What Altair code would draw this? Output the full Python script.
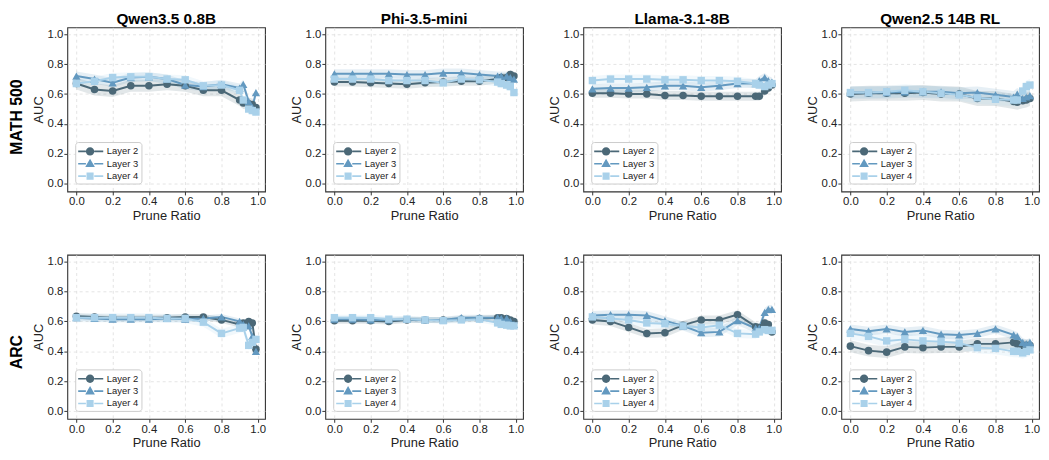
import altair as alt
import pandas as pd

PRUNE = [0.0, 0.1, 0.2, 0.3, 0.4, 0.5, 0.6, 0.7, 0.8, 0.9, 0.92, 0.95, 0.97, 0.99]
MODELS = ["Qwen3.5 0.8B", "Phi-3.5-mini", "Llama-3.1-8B", "Qwen2.5 14B RL"]
DATASETS = ["MATH 500", "ARC"]
LAYERS = ["Layer 2", "Layer 3", "Layer 4"]
COLORS = ["#4b6877", "#6399c0", "#a9d1ea"]
SHAPES = ["circle", "triangle-up", "square"]
TICKS = [0.0, 0.2, 0.4, 0.6, 0.8, 1.0]

qwen35_math_l2 = [0.67, 0.63, 0.62, 0.655, 0.655, 0.665, 0.655, 0.625, 0.625, 0.56, 0.54, 0.535, 0.53, 0.51]
qwen35_math_l3 = [0.72, 0.70, 0.675, 0.71, 0.715, 0.70, 0.66, 0.65, 0.665, 0.64, 0.665, 0.55, 0.51, 0.61]
qwen35_math_l4 = [0.67, 0.685, 0.71, 0.715, 0.715, 0.70, 0.695, 0.655, 0.66, 0.625, 0.56, 0.50, 0.49, 0.48]

phi_math_l2 = [0.68, 0.68, 0.675, 0.67, 0.665, 0.675, 0.68, 0.685, 0.685, 0.70, 0.71, 0.71, 0.73, 0.72]
phi_math_l3 = [0.735, 0.735, 0.735, 0.735, 0.73, 0.73, 0.74, 0.74, 0.73, 0.72, 0.72, 0.72, 0.71, 0.70]
phi_math_l4 = [0.70, 0.70, 0.70, 0.69, 0.69, 0.69, 0.675, 0.70, 0.695, 0.68, 0.67, 0.66, 0.65, 0.61]

llama_math_l2 = [0.605, 0.605, 0.60, 0.60, 0.59, 0.59, 0.585, 0.585, 0.585, 0.585, 0.585, 0.62, 0.64, 0.66]
llama_math_l3 = [0.635, 0.64, 0.64, 0.645, 0.655, 0.655, 0.645, 0.655, 0.67, 0.67, 0.69, 0.71, 0.69, 0.68]
llama_math_l4 = [0.69, 0.70, 0.70, 0.70, 0.695, 0.695, 0.69, 0.69, 0.685, 0.67, 0.66, 0.65, 0.66, 0.67]

qwen25_math_l2 = [0.60, 0.605, 0.605, 0.605, 0.61, 0.60, 0.60, 0.57, 0.57, 0.55, 0.545, 0.555, 0.56, 0.57]
qwen25_math_l3 = [0.61, 0.61, 0.61, 0.615, 0.615, 0.615, 0.605, 0.61, 0.595, 0.58, 0.60, 0.57, 0.58, 0.59]
qwen25_math_l4 = [0.61, 0.61, 0.615, 0.625, 0.615, 0.605, 0.595, 0.575, 0.565, 0.56, 0.56, 0.62, 0.65, 0.66]

qwen35_arc_l2 = [0.635, 0.63, 0.625, 0.625, 0.625, 0.625, 0.63, 0.63, 0.61, 0.58, 0.59, 0.60, 0.59, 0.415]
qwen35_arc_l3 = [0.625, 0.62, 0.615, 0.615, 0.615, 0.62, 0.615, 0.62, 0.63, 0.60, 0.58, 0.57, 0.50, 0.40]
qwen35_arc_l4 = [0.625, 0.625, 0.625, 0.625, 0.625, 0.62, 0.62, 0.595, 0.52, 0.555, 0.56, 0.44, 0.46, 0.48]

phi_arc_l2 = [0.605, 0.605, 0.605, 0.60, 0.61, 0.61, 0.61, 0.615, 0.62, 0.625, 0.625, 0.62, 0.61, 0.60]
phi_arc_l3 = [0.615, 0.615, 0.61, 0.61, 0.615, 0.61, 0.61, 0.625, 0.625, 0.625, 0.62, 0.62, 0.60, 0.58]
phi_arc_l4 = [0.625, 0.625, 0.625, 0.615, 0.615, 0.61, 0.605, 0.61, 0.615, 0.59, 0.58, 0.575, 0.57, 0.57]

llama_arc_l2 = [0.61, 0.60, 0.56, 0.52, 0.525, 0.575, 0.61, 0.61, 0.645, 0.565, 0.56, 0.59, 0.58, 0.53]
llama_arc_l3 = [0.64, 0.645, 0.645, 0.64, 0.605, 0.57, 0.525, 0.53, 0.605, 0.555, 0.555, 0.66, 0.68, 0.68]
llama_arc_l4 = [0.63, 0.62, 0.61, 0.59, 0.585, 0.57, 0.56, 0.575, 0.52, 0.515, 0.53, 0.545, 0.54, 0.54]

qwen25_arc_l2 = [0.435, 0.405, 0.395, 0.43, 0.425, 0.43, 0.43, 0.45, 0.45, 0.46, 0.45, 0.44, 0.44, 0.44]
qwen25_arc_l3 = [0.55, 0.535, 0.55, 0.53, 0.54, 0.515, 0.51, 0.52, 0.55, 0.51, 0.50, 0.46, 0.45, 0.46]
qwen25_arc_l4 = [0.52, 0.50, 0.47, 0.48, 0.47, 0.465, 0.455, 0.425, 0.42, 0.40, 0.40, 0.39, 0.40, 0.41]

# half-width of the shaded band for Layer 2/3/4 in each panel
band_qwen35_math = [0.04, 0.03, 0.03]
band_phi_math = [0.03, 0.03, 0.03]
band_llama_math = [0.03, 0.03, 0.03]
band_qwen25_math = [0.05, 0.04, 0.04]
band_qwen35_arc = [0.02, 0.02, 0.03]
band_phi_arc = [0.02, 0.02, 0.02]
band_llama_arc = [0.03, 0.03, 0.03]
band_qwen25_arc = [0.04, 0.03, 0.04]

PANELS = {
    ("Qwen3.5 0.8B", "MATH 500"): ([qwen35_math_l2, qwen35_math_l3, qwen35_math_l4], band_qwen35_math),
    ("Phi-3.5-mini", "MATH 500"): ([phi_math_l2, phi_math_l3, phi_math_l4], band_phi_math),
    ("Llama-3.1-8B", "MATH 500"): ([llama_math_l2, llama_math_l3, llama_math_l4], band_llama_math),
    ("Qwen2.5 14B RL", "MATH 500"): ([qwen25_math_l2, qwen25_math_l3, qwen25_math_l4], band_qwen25_math),
    ("Qwen3.5 0.8B", "ARC"): ([qwen35_arc_l2, qwen35_arc_l3, qwen35_arc_l4], band_qwen35_arc),
    ("Phi-3.5-mini", "ARC"): ([phi_arc_l2, phi_arc_l3, phi_arc_l4], band_phi_arc),
    ("Llama-3.1-8B", "ARC"): ([llama_arc_l2, llama_arc_l3, llama_arc_l4], band_llama_arc),
    ("Qwen2.5 14B RL", "ARC"): ([qwen25_arc_l2, qwen25_arc_l3, qwen25_arc_l4], band_qwen25_arc),
}

# legend symbols: short line with the marker on it (unit box -1..1, line runs past it to the right)
_SEG = "M-1,-0.13H0.2V0.13H-1Z M1.5,-0.13H2.9V0.13H1.5Z "
LEG_PATHS = [
    _SEG + "M0.2,0A0.65,0.65 0 1,0 1.5,0A0.65,0.65 0 1,0 0.2,0Z",
    _SEG + "M0.85,-0.78L1.6,0.52L0.1,0.52Z",
    _SEG + "M0.3,-0.56H1.4V0.56H0.3Z",
]

FONT = "Liberation Sans"
W, H = 200, 166


def panel(model, dataset, top):
    series, bands = PANELS[(model, dataset)]
    rows = []
    for li, layer in enumerate(LAYERS):
        for x, v in zip(PRUNE, series[li]):
            rows.append({"x": x, "auc": v, "lo": v - bands[li], "hi": v + bands[li], "layer": layer})
    df = pd.DataFrame(rows)
    base = alt.Chart(df)
    xs = alt.Scale(domain=[-0.05, 1.04], nice=False, zero=False)
    ys = alt.Scale(domain=[-0.05, 1.045], nice=False, zero=False)
    xaxis = alt.Axis(values=TICKS, format=".1f", title="Prune Ratio", labelOverlap=False)
    yaxis = alt.Axis(values=TICKS, format=".1f", title="AUC", labelOverlap=False)
    xenc = alt.X("x:Q", scale=xs, axis=xaxis)
    yenc = alt.Y("auc:Q", scale=ys, axis=yaxis)
    cscale = alt.Scale(domain=LAYERS, range=COLORS)
    color = alt.Color("layer:N", scale=cscale)

    legdef = alt.Legend(title=None, orient="bottom-left", offset=8)
    leg = (
        base.transform_filter("false")
        .mark_point(filled=True, opacity=1)
        .encode(
            x=xenc,
            y=yenc,
            color=alt.Color("layer:N", scale=cscale, legend=legdef),
            shape=alt.Shape("layer:N", scale=alt.Scale(domain=LAYERS, range=LEG_PATHS), legend=legdef),
        )
    )
    band = base.mark_area(opacity=0.16).encode(
        x=xenc, y=alt.Y("lo:Q", scale=ys, axis=yaxis), y2="hi:Q", color=color
    )
    lines = base.mark_line(strokeWidth=2).encode(x=xenc, y=yenc, color=color)
    pts = []
    sizes = [58, 70, 56]
    for li, layer in enumerate(LAYERS):
        pts.append(
            base.transform_filter(alt.datum.layer == layer)
            .mark_point(filled=True, opacity=1, shape=SHAPES[li], size=sizes[li])
            .encode(x=xenc, y=yenc, color=color)
        )
    ch = alt.layer(leg, band, lines, *pts).properties(width=W, height=H)
    if top:
        ch = ch.properties(title=alt.TitleParams(model, fontSize=15.5, fontWeight="bold", font=FONT,
                                                 color="#000", offset=0))
    return ch


rows = []
for di, ds in enumerate(DATASETS):
    row = alt.hconcat(
        *[panel(m, ds, di == 0) for m in MODELS],
        spacing=22,
        title=alt.TitleParams(ds, orient="left", anchor="middle", fontSize=16, fontWeight="bold",
                              font=FONT, color="#000", offset=7),
    ).resolve_legend(color="independent", shape="independent")
    rows.append(row)

chart = (
    alt.vconcat(*rows, spacing=31)
    .properties(padding=0)
    .resolve_legend(color="independent", shape="independent")
    .configure_view(stroke="#333333", strokeWidth=1.1)
    .configure_axis(
        labelFont=FONT, titleFont=FONT, labelFontSize=11.5, titleFontSize=13,
        labelColor="#222", titleColor="#222", titleFontWeight="normal",
        grid=True, gridColor="#dddddd", gridDash=[3, 3], gridWidth=0.8,
        domain=False, tickColor="#333", tickSize=3.5, labelPadding=1, titlePadding=2,
        labelOverlap=False,
    )
    .configure_legend(
        orient="bottom-left", offset=8, fillColor="white", strokeColor="#cccccc",
        cornerRadius=3, padding=3, labelFont=FONT, labelFontSize=9.5, labelColor="#222",
        symbolSize=169, symbolStrokeWidth=0, rowPadding=1.5, labelOffset=16,
    )
)

chart.save("out.html", embed_options={"renderer": "svg", "actions": False})
